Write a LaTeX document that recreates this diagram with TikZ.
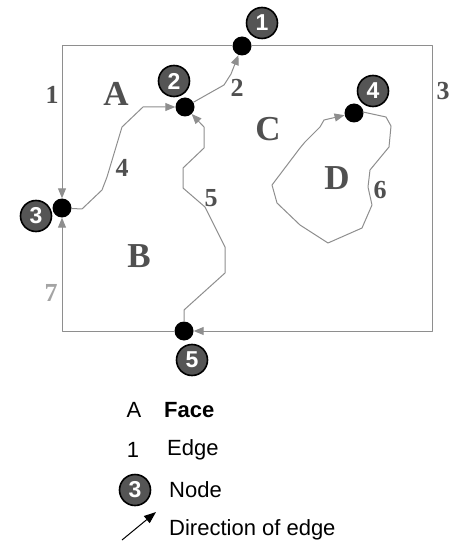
\documentclass[tikz,border=0pt]{standalone}
\usepackage{fontspec}
\setmainfont{Liberation Serif}
\setsansfont{Liberation Sans}
\usetikzlibrary{arrows.meta}
\definecolor{edgegray}{HTML}{8E8E8E}
\definecolor{txtgray}{HTML}{505050}
\definecolor{lblfill}{HTML}{555555}
\begin{document}
\begin{tikzpicture}[x=1pt,y=-1pt,
  edge/.style={draw=edgegray, line width=1pt, line join=round,
    -{Triangle[length=10pt,width=8pt,fill=edgegray]}},
  dot/.style={circle, fill=black, inner sep=0pt, minimum size=19pt},
  lbl/.style={circle, fill=lblfill, draw=black, line width=1.6pt, inner sep=0pt,
    minimum size=31pt, text=white, font=\sffamily\bfseries\fontsize{23}{23}\selectfont},
  face/.style={text=txtgray, font=\bfseries\fontsize{35}{35}\selectfont, inner sep=0pt},
  enum/.style={text=txtgray, font=\bfseries\fontsize{26}{26}\selectfont, inner sep=0pt},
  leg/.style={font=\sffamily\fontsize{22}{22}\selectfont, inner sep=0pt}
]
\useasboundingbox (0,0) rectangle (448,545);
\fill[white] (0,0) rectangle (448,545);

% vertices (dots)
\node[dot] (n1) at (242,46) {};
\node[dot] (n2) at (185,107) {};
\node[dot] (n3) at (62,208) {};
\node[dot] (n4) at (354,113) {};
\node[dot] (n5) at (184,331) {};
\coordinate (c3) at (432,331);

% edges
\draw[edge] (n1) -| (n3);
\draw[edge] (n1) -| (c3) -- (n5);
\draw[edge] (n5) -| (n3);
\draw[edge] (n2) -- (224,85) -- (231,74) -- (n1);
\draw[edge] (n3) -- (82,209) -- (102,190) -- (107,177) -- (122,127) -- (143,107) -- (n2);
\draw[edge] (n5) -- (184,310) -- (225,273) -- (225,247) -- (205,207) -- (183,188)
  -- (183,168) -- (204,148) -- (204,127) -- (n2);
\draw[edge] (n4) -- (363,112) -- (386,117) -- (391,126) -- (389,147) -- (370,170)
  -- (368,187) -- (372,205) -- (362,228) -- (328,243) -- (300,225) -- (277,203)
  -- (272,185) -- (300,148) -- (305,142) -- (320,127) -- (324,120) -- (n4);

% node labels
\node[lbl] (l1) at (262,23) {1};
\node[lbl] (l2) at (174,81) {2};
\node[lbl] (l3) at (36,216) {3};
\node[lbl] (l4) at (373,91) {4};
\node[lbl] (l5) at (192,360) {5};

% face labels
\node[face] (fA) at (116,94) {A};
\node[face] (fB) at (139,256) {B};
\node[face] (fC) at (268,129) {C};
\node[face] (fD) at (337,178) {D};

% edge labels
\node[enum] (e1) at (52,95) {1};
\node[enum] (e2) at (237,88) {2};
\node[enum] (e3) at (443,91) {3};
\node[enum] (e4) at (122,168) {4};
\node[enum] (e5) at (211,198) {5};
\node[enum] (e6) at (380,190) {6};
\node[enum, text=edgegray!80] (e7) at (51,293) {7};

% legend
\node[leg] (kA) at (134,410) {A};
\node[leg, anchor=west, font=\sffamily\bfseries\fontsize{22}{22}\selectfont] (kFace) at (164,410) {Face};
\node[leg] (k1) at (133,450) {1};
\node[leg, anchor=west] (kEdge) at (167,450) {Edge};
\node[lbl] (kN) at (135,490) {3};
\node[leg, anchor=west] (kNode) at (169,490) {Node};
\coordinate (as) at (122,540);
\coordinate (ae) at (156,512);
\draw[line width=1pt, -{Triangle[length=12pt,width=9pt]}] (as) -- (ae);
\node[leg, anchor=west] (kDir) at (169,530) {Direction of edge};
\end{tikzpicture}
\end{document}
